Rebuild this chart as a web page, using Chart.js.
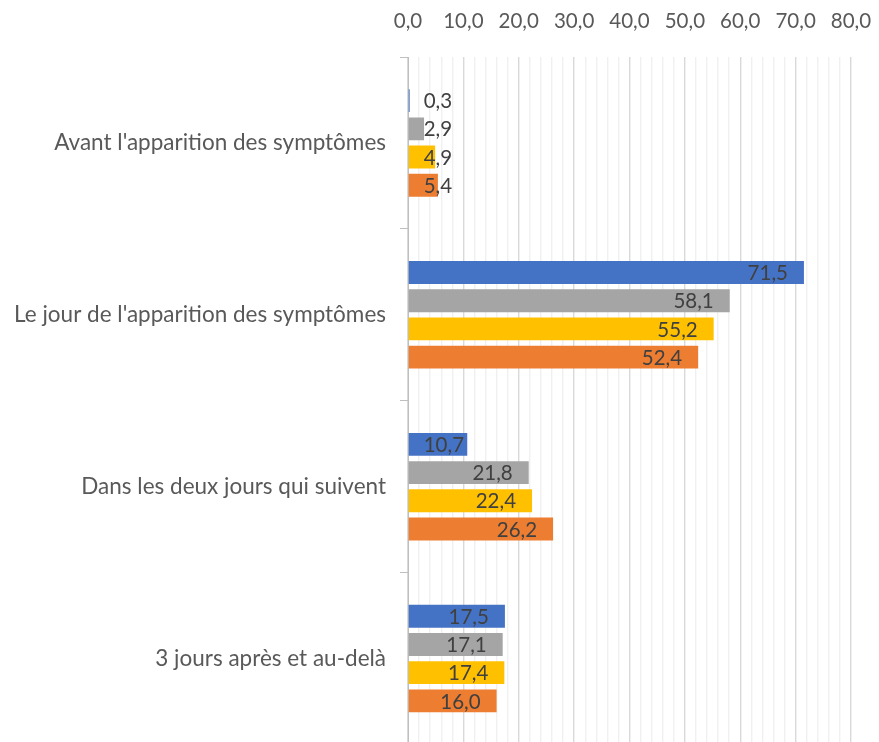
<!DOCTYPE html>
<html>
<head>
<meta charset="utf-8">
<script src="https://cdn.jsdelivr.net/npm/chart.js@4.4.1/dist/chart.umd.min.js"></script>
<style>
html,body{margin:0;padding:0;background:#fff;overflow:hidden;}
</style>
</head>
<body>
<canvas id="graphe" width="879" height="772"></canvas>
<script>
var categories = ["Avant l'apparition des symptômes", "Le jour de l'apparition des symptômes", "Dans les deux jours qui suivent", "3 jours après et au-delà"];
var serieBleue = [0.3, 71.5, 10.7, 17.5];
var serieGrise = [2.9, 58.1, 21.8, 17.1];
var serieJaune = [4.9, 55.2, 22.4, 17.4];
var serieOrange = [5.4, 52.4, 26.2, 16.0];
var nomsSeries = ['Série 1', 'Série 2', 'Série 3', 'Série 4'];
var couleurs = ['#4472C4', '#A5A5A5', '#FFC000', '#ED7D31'];

var police = "Lato, sans-serif";
var tailleChiffres = 20.5;
var tailleCategories = 22.5;

function virgule(v) {
    return v.toFixed(1).replace('.', ',');
}

// etiquettes de valeur, a l'interieur de la fin de barre
var etiquettes = {
    id: 'etiquettes',
    afterDatasetsDraw(chart) {
        let ctx = chart.ctx;
        ctx.save();
        ctx.font = tailleChiffres + 'px ' + police;
        ctx.fillStyle = '#404040';
        ctx.textAlign = 'right';
        ctx.textBaseline = 'middle';
        chart.data.datasets.forEach((ds, i) => {
            let meta = chart.getDatasetMeta(i);
            meta.data.forEach((barre, j) => {
                let texte = virgule(ds.data[j]);
                let w = ctx.measureText(texte).width;
                let droite = Math.max(barre.x - 16, barre.base + 15 + w);
                ctx.fillText(texte, droite, barre.y + 1);
            });
        });
        ctx.restore();
    }
};

var donnees = [serieBleue, serieGrise, serieJaune, serieOrange];
var jeux = [];
donnees.forEach((d, i) => {
    jeux.push({
        label: nomsSeries[i],
        data: d,
        backgroundColor: couleurs[i],
        categoryPercentage: 0.657,
        barPercentage: 0.81
    });
});

new Chart(document.getElementById('graphe').getContext('2d'), {
    type: 'bar',
    data: {
        labels: categories,
        datasets: jeux
    },
    options: {
        indexAxis: 'y',
        responsive: false,
        animation: false,
        layout: {padding: {top: 0, right: 28, left: 0, bottom: 0}},
        plugins: {
            legend: {display: false},
            tooltip: {enabled: false}
        },
        scales: {
            x: {
                position: 'top',
                min: 0,
                max: 80,
                grid: {
                    drawTicks: false,
                    lineWidth: 1.4,
                    color: c => (c.tick && c.tick.value % 10 === 0) ? '#d9d9d9' : '#f0f0f0'
                },
                border: {display: false},
                ticks: {
                    stepSize: 2,
                    autoSkip: false,
                    maxRotation: 0,
                    padding: 23,
                    color: '#595959',
                    font: {family: police, size: tailleChiffres},
                    callback: v => v % 10 === 0 ? virgule(v) : ''
                },
                afterFit: s => {
                    s.height = 57;
                    s.paddingLeft = 0;
                    s.paddingRight = 0;
                }
            },
            y: {
                grid: {
                    offset: true,
                    drawOnChartArea: false,
                    tickLength: 8,
                    color: '#bfbfbf'
                },
                border: {display: true, color: '#bfbfbf'},
                ticks: {
                    padding: 14,
                    color: '#595959',
                    font: {family: police, size: tailleCategories}
                },
                afterFit: s => { s.width = 408; }
            }
        }
    },
    plugins: [etiquettes]
});
</script>
</body>
</html>
